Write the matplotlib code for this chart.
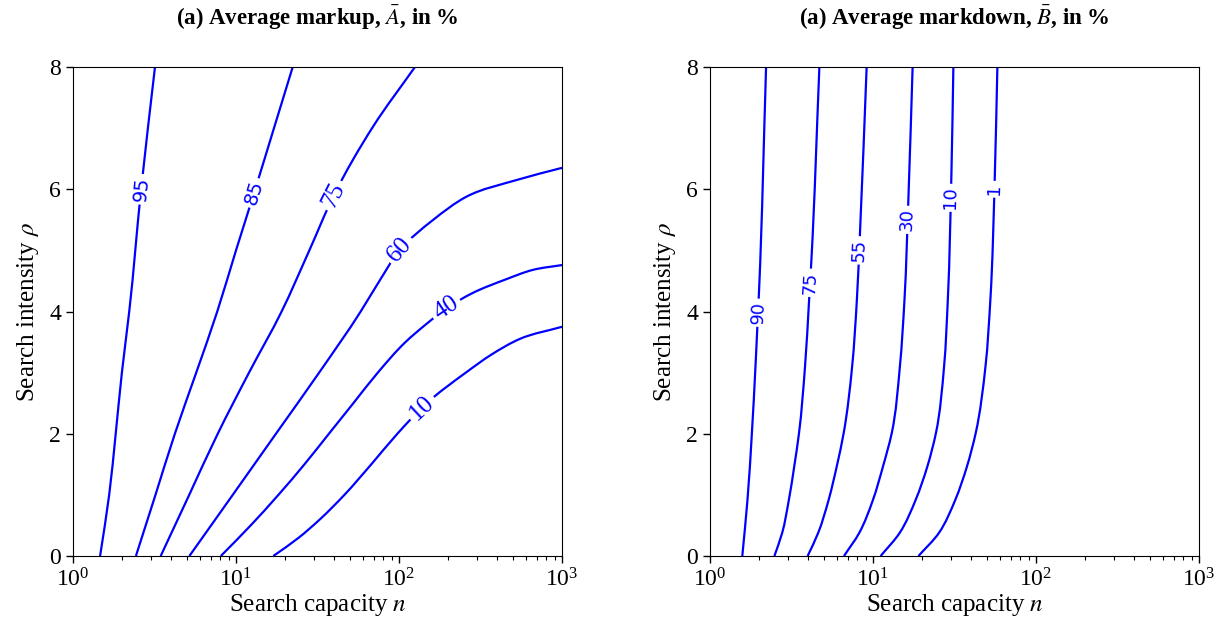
import numpy as np
import matplotlib
matplotlib.use("Agg")
import matplotlib.pyplot as plt
from matplotlib.path import Path
from matplotlib.patches import PathPatch

plt.rcParams["font.family"] = ["Liberation Serif", "DejaVu Serif"]
plt.rcParams["mathtext.fontset"] = "stix"
plt.rcParams["font.size"] = 17

# ---- left panel: average markup contours, points read as (rho, n) ----
markup_levels = ["95", "85", "75", "60", "40", "10"]
markup_rho = [
    [0, 1, 2, 3, 4, 6, 8],
    [0, 1, 2, 3, 4, 5, 6, 7, 8],
    [0, 1, 2, 3, 4, 5, 5.9, 7.03, 8],
    [0, 1, 2, 3, 4, 4.5, 5, 5.5, 5.88, 6.15, 6.35],
    [0, 0.5, 1, 1.5, 2, 2.5, 3, 3.5, 3.8, 4.05, 4.3, 4.52, 4.68, 4.76],
    [0, 0.3, 0.6, 1, 1.5, 2, 2.5, 3, 3.3, 3.55, 3.75],
]
markup_n = [
    [1.466, 1.667, 1.828, 1.995, 2.213, 2.618, 3.184],
    [2.432, 3.206, 4.217, 5.702, 7.674, 10.0, 13.12, 17.10, 22.28],
    [3.451, 5.164, 7.727, 12.02, 19.05, 28.18, 39.81, 69.50, 125.3],
    [5.176, 9.550, 17.58, 32.36, 58.21, 75.86, 100.7, 162.2, 260.0, 524.8, 1000],
    [8.072, 12.30, 18.20, 26.30, 37.15, 52.48, 74.13, 109.6, 147.9, 195.0, 281.8, 446.7, 660.7, 1000],
    [16.94, 24.27, 32.73, 46.24, 67.61, 97.72, 147.9, 257.0, 371.5, 549.5, 1000],
]
markup_label_rho = [6.0, 5.94, 5.9, 5.01, 4.05, 2.42]
markup_label_serif = [False, False, True, True, True, True]

# ---- right panel: average markdown contours ----
markdown_levels = ["90", "75", "55", "30", "10", "1"]
markdown_rho = [
    [0, 0.92, 2.01, 3.1, 3.72, 4.35, 8],
    [0, 0.38, 0.92, 1.47, 2.01, 3.1, 4.19, 4.84, 8],
    [0, 0.38, 0.92, 1.47, 2.01, 3.1, 4.19, 5.28, 8],
    [0, 0.38, 0.92, 1.47, 2.01, 3.1, 4.19, 5.83, 8],
    [0, 0.38, 0.92, 1.47, 2.01, 3.1, 4.19, 6.24, 8],
    [0, 0.38, 0.92, 1.47, 2.01, 3.1, 4.19, 6.19, 8],
]
markdown_n = [
    [1.578, 1.698, 1.807, 1.901, 1.950, 2.000, 2.208],
    [2.483, 2.773, 3.048, 3.289, 3.516, 3.828, 4.055, 4.188, 4.688],
    [3.972, 4.613, 5.346, 5.998, 6.607, 7.447, 7.962, 8.318, 9.141],
    [6.637, 8.241, 10.0, 11.53, 13.03, 14.62, 15.60, 16.48, 17.50],
    [11.14, 14.59, 18.28, 21.58, 24.32, 27.29, 28.77, 30.27, 31.12],
    [19.01, 25.41, 31.99, 37.76, 42.66, 48.98, 52.48, 55.85, 57.94],
]
markdown_label_rho = [3.98, 4.47, 5.0, 5.5, 5.86, 6.0]
markdown_label_serif = [False] * 6

titles = [r"(a) Average markup, $\bar{A}$, in %", r"(a) Average markdown, $\bar{B}$, in %"]

fig = plt.figure(figsize=(12.27, 6.26), dpi=100)
ax1 = fig.add_axes([73 / 1227, 70 / 626, 489 / 1227, 489 / 626])
ax2 = fig.add_axes([710 / 1227, 70 / 626, 489 / 1227, 489 / 626])


def smooth_path(n, rho):
    # bezier through the read points, built in (log n, rho) axes space
    p = np.column_stack([np.log10(n) / 3.0, np.array(rho) / 8.0])
    d = np.diff(p, axis=0)
    seg = np.linalg.norm(d, axis=1)
    t = np.empty_like(p)
    t[0], t[-1] = d[0], d[-1]
    # chord-weighted tangents
    t[1:-1] = d[1:] / seg[1:, None] * seg[:-1, None] + d[:-1] / seg[:-1, None] * seg[1:, None]
    t /= np.linalg.norm(t, axis=1)[:, None]
    verts = [p[0]]
    for i in range(len(d)):
        verts += [p[i] + t[i] * seg[i] / 3, p[i + 1] - t[i + 1] * seg[i] / 3, p[i + 1]]
    verts = np.array(verts)
    verts = np.column_stack([10 ** (verts[:, 0] * 3.0), verts[:, 1] * 8.0])
    codes = [Path.MOVETO] + [Path.CURVE4] * (len(verts) - 1)
    return Path(verts, codes)


def draw_panel(ax, title, levels, rhos, ns, label_rhos, serif, sans_size):
    ax.set_xscale("log")
    ax.set_xlim(1, 1000)
    ax.set_ylim(0, 8)
    for lev, rho, n, lr, sf in zip(levels, rhos, ns, label_rhos, serif):
        rho = np.array(rho)
        logn = np.log10(n)
        ax.add_patch(PathPatch(smooth_path(n, rho), fill=False, ec="blue", lw=1.6))
        lx = 10 ** np.interp(lr, rho, logn)
        p0 = ax.transData.transform((10 ** np.interp(lr - 0.25, rho, logn), lr - 0.25))
        p1 = ax.transData.transform((10 ** np.interp(lr + 0.25, rho, logn), lr + 0.25))
        ang = np.degrees(np.arctan2(p1[1] - p0[1], p1[0] - p0[0]))
        if ang > 90:
            ang -= 180
        if sf:
            fam, fs = "Liberation Serif", 18
        else:
            fam, fs = "DejaVu Sans", sans_size
        ax.text(lx, lr, lev, color="blue", fontsize=fs, fontfamily=fam, rotation=ang,
                rotation_mode="anchor", ha="center", va="center",
                bbox=dict(boxstyle="square,pad=0.15", fc="white", ec="none"))
    ax.set_yticks([0, 2, 4, 6, 8])
    ax.tick_params(which="major", direction="out", length=5, width=1, labelsize=17)
    ax.tick_params(which="minor", direction="out", length=3, width=0.8)
    ax.set_xlabel(r"Search capacity $n$", fontsize=18, labelpad=1)
    ax.set_ylabel(r"Search intensity $\rho$", fontsize=18, labelpad=6)
    ax.set_title(title, fontsize=16.5, fontweight="bold", pad=30)


draw_panel(ax1, titles[0], markup_levels, markup_rho, markup_n, markup_label_rho, markup_label_serif, 14)
draw_panel(ax2, titles[1], markdown_levels, markdown_rho, markdown_n, markdown_label_rho, markdown_label_serif, 13)

fig.savefig("out.png", dpi=100)
